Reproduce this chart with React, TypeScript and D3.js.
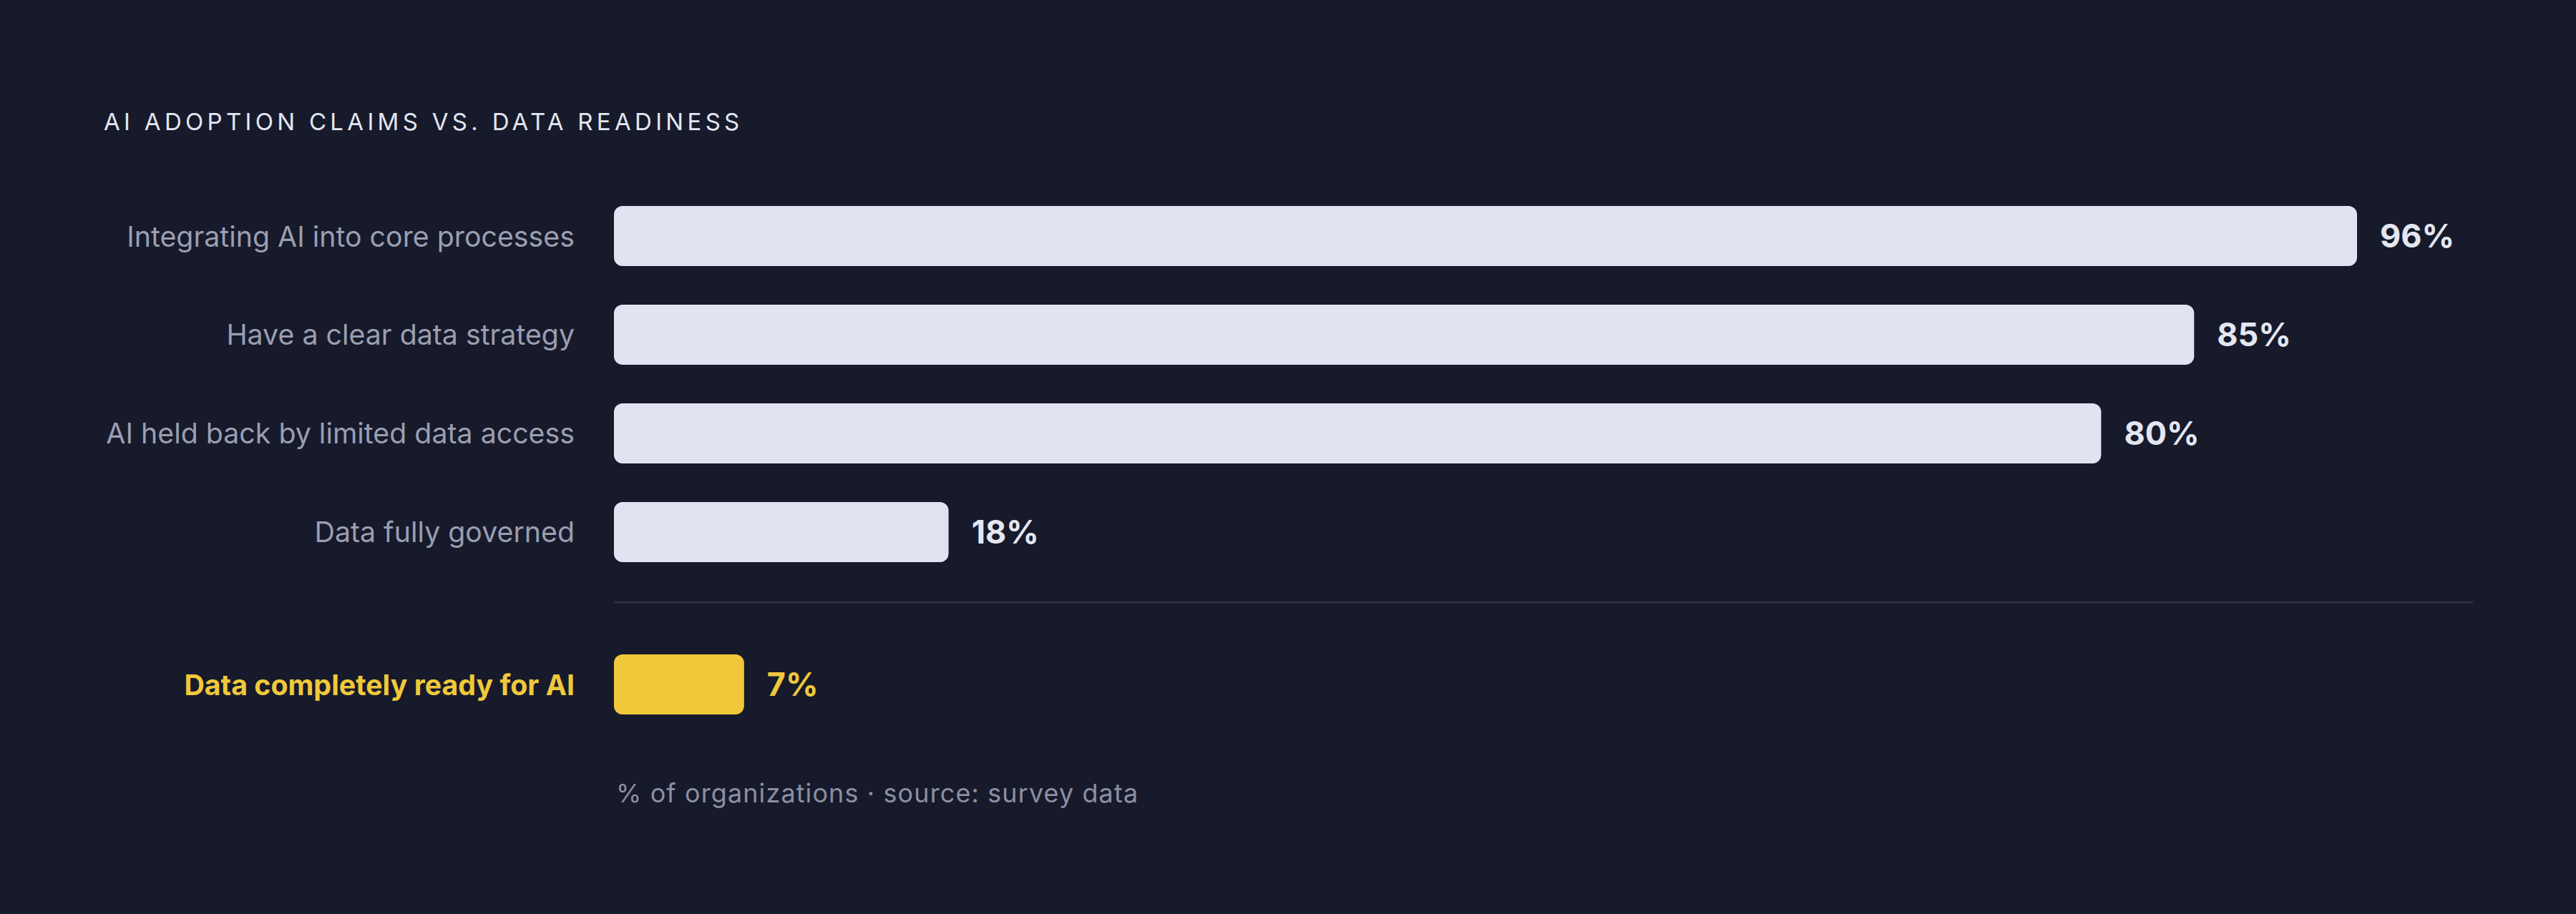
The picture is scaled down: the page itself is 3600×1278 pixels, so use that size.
import React, { useEffect, useRef } from "react";
import * as d3 from "d3";

// survey rows, top block
const categories = [
  "Integrating AI into core processes",
  "Have a clear data strategy",
  "AI held back by limited data access",
  "Data fully governed",
];
const values = [96, 85, 80, 18];

// highlighted row under the divider
const highlightLabel = "Data completely ready for AI";
const highlightValue = 7;

const title = "AI ADOPTION CLAIMS VS. DATA READINESS";
const footnote = "% of organizations · source: survey data";

const App: React.FC = () => {
  const svgRef = useRef<SVGSVGElement>(null);
  const width = 3600;
  const height = 1278;

  useEffect(() => {
    if (!svgRef.current) return;
    const svg = d3.select(svgRef.current);
    svg.selectAll("*").remove();

    const font = "Inter, 'Noto Sans', sans-serif";
    const trackLeft = 858;
    const trackRight = 3456;
    const labelRight = 803;
    const labelReserve = 162; // room kept for the value label at the far end

    svg.append("rect")
      .attr("width", width)
      .attr("height", height)
      .attr("fill", "#161a2b");

    svg.append("text")
      .attr("x", 145)
      .attr("y", 182)
      .attr("fill", "#e4e6f0")
      .style("font-family", font)
      .style("font-size", "33px")
      .style("font-weight", 400)
      .style("letter-spacing", "5.3px")
      .text(title);

    const x = d3.scaleLinear()
      .domain([0, 100])
      .range([0, trackRight - trackLeft]);
    const barW = (v: number) => Math.min(x(v), x.range()[1] - labelReserve);

    const y = d3.scaleBand<string>()
      .domain(categories)
      .range([288, 786])
      .paddingInner(0.3913)
      .paddingOuter(0);

    const g = svg.append("g").attr("transform", `translate(${trackLeft},0)`);

    const rows = g.selectAll("g.row")
      .data(categories.map((c, i) => ({ label: c, value: values[i] })))
      .join("g")
      .attr("class", "row")
      .attr("transform", d => `translate(0,${y(d.label)})`);

    rows.append("rect")
      .attr("width", d => barW(d.value))
      .attr("height", y.bandwidth())
      .attr("rx", 12)
      .attr("fill", "#e1e4f0");

    rows.append("text")
      .attr("x", labelRight - trackLeft)
      .attr("y", y.bandwidth() / 2 + 14.5)
      .attr("text-anchor", "end")
      .attr("fill", "#9b9eb1")
      .style("font-family", font)
      .style("font-size", "39.3px")
      .text(d => d.label);

    rows.append("text")
      .attr("x", d => barW(d.value) + 32)
      .attr("y", y.bandwidth() / 2 + 16)
      .attr("fill", "#e4e6f0")
      .style("font-family", font)
      .style("font-size", "45px")
      .style("font-weight", 700)
      .text(d => `${d.value}%`);

    // divider
    g.append("line")
      .attr("x1", 0)
      .attr("x2", x.range()[1])
      .attr("y1", 842)
      .attr("y2", 842)
      .attr("stroke", "#2d3042")
      .attr("stroke-width", 3);

    const hy = 915;
    g.append("rect")
      .attr("y", hy)
      .attr("width", barW(highlightValue))
      .attr("height", y.bandwidth())
      .attr("rx", 12)
      .attr("fill", "#f0c83a");

    g.append("text")
      .attr("x", labelRight - trackLeft)
      .attr("y", hy + y.bandwidth() / 2 + 14.5)
      .attr("text-anchor", "end")
      .attr("fill", "#f0c83a")
      .style("font-family", font)
      .style("font-size", "39.3px")
      .style("font-weight", 700)
      .text(highlightLabel);

    g.append("text")
      .attr("x", barW(highlightValue) + 32)
      .attr("y", hy + y.bandwidth() / 2 + 16)
      .attr("fill", "#f0c83a")
      .style("font-family", font)
      .style("font-size", "45px")
      .style("font-weight", 700)
      .text(`${highlightValue}%`);

    g.append("text")
      .attr("x", 3)
      .attr("y", 1122)
      .attr("fill", "#8c8fa2")
      .style("font-family", font)
      .style("font-size", "36px")
      .style("letter-spacing", "1.1px")
      .text(footnote);
  }, []);

  return (
    <svg
      ref={svgRef}
      width={width}
      height={height}
      style={{ position: "absolute", left: 0, top: 0, display: "block" }}
    />
  );
};

export default App;
